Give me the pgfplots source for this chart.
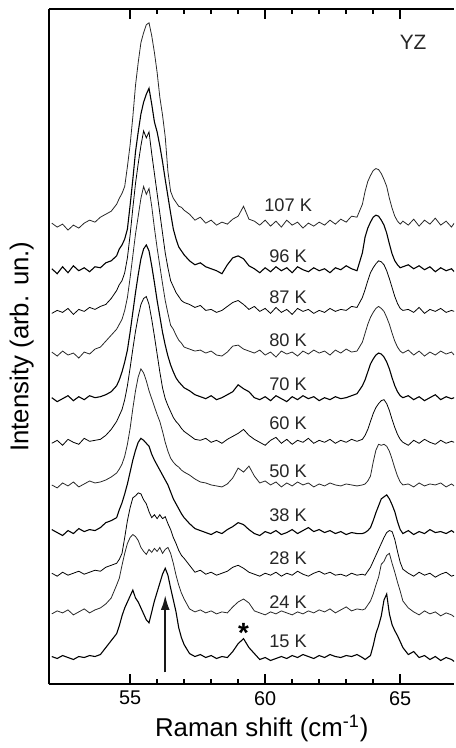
\documentclass[border=0pt]{standalone}
\usepackage{fontspec}
\setmainfont{Liberation Sans}
\usepackage{pgfplots}
\usepackage{pgfplotstable}
\pgfplotsset{compat=1.18}
\usetikzlibrary{arrows.meta}

% Raman spectra, YZ geometry; intensities above each baseline (arb. un.)
\pgfplotstableread{
x    t107 t96 t87 t80 t70 t60 t50 t38 t28 t24 t15
52.1  3  2 -1  3  2  0  1  4  2 -1  1
52.3 -1 -3  2 -1 -2  3 -2  1 -1  2 -1
52.5  2  4  0  4  1 -2  3 -2  3  0  2
52.7 -4 -2  4  0  4  4  0  3  0  3  0
52.9  1  5 -2  2 -1  1  4  0  2 -2 -2
53.1 -2  0  3 -3  3 -1 -1  5  4  1  1
53.3  3  3  1  3  0  5  2  2  1  4  0
53.5  6 -1  5  1  4  2  5  4  3  0  2
53.7  4  4  3  6  2  3  3  3  5  3  1
53.9  9  3  6  8  3  4  4  6  4  5  3
54.1 12  8  8 14  5  8  6 11  8  9 10
54.3 15 10 14 20  8 14  9 13 10 15 17
54.5 22 15 22 26 14 22 13 16 12 28 24
54.6  28  22  28  31  20  28  17  24  16  35  32
54.7  33  26  32  36  28  34  22  31  22  48  42
54.8  40  32  40  45  38  44  30  40  38  60  50
54.9  60  42  55  58  50  58  42  50  55  70  56
55.0  82  66  78  78  68  76  58  62  68  76  62
55.1 110  92 105 100  88  95  78  74  78  79  68
55.2 142 120 130 122 108 113  96  84  80  77  60
55.3 165 140 150 140 126 128 110  92  83  73  56
55.4 185 158 168 158 142 140 118  96  82  66  50
55.5 195 170 183 170 152 146 114  94  76  62  44
55.6 203 178 176 162 156 148 106  91  72  59  38
55.7 205 184 182 168 150 140  96  88  64  64  35
55.8 192 168 160 150 135 125  88  80  58  61  46
55.9 175 150 140 128 118 108  80  74  61  65  57
56.0 155 140 120 108 100  90  72  69  57  62  66
56.1 130 126 100  90  84  72  65  64  61  66  75
56.2 112 110  80  72  68  56  55  59  57  60  84
56.3  90  92  60  55  55  45  44  54  59  64  90
56.4  55  75  45  42  44  38  35  49  52  66  83
56.5  35  58  32  30  35  32  28  42  46  60  70
56.6  28  42  26  26  28  26  24  35  38  50  58
56.7  24  32  20  20  22  22  21  30  32  38  46
56.8  20  24  16  15  18  19  19  25  25  28  30
56.9  19  20  12  12  15  15  16  20  20  20  20
57.0  16  16  10   8  12  12  14  16  17  14  13
57.2 12 10  8  6  9  8 11 10 10  4  4
57.4  6  6  5  4  5  4  7  5  3  1  1
57.6  9  8  7  5  3  3  4  3  5  3  3
57.8  3  4  2  2  1  5  3  1  1  0  0
58.0  6  2  3  4  4  1  1 -1  3  2  2
58.2  1  0  0  0  0  3  0  2  0 -1 -1
58.4  4 -3  2 -1  2  0 -1  0  2  1  1
58.6  2  6  6  3  5  4  2  4  4  0  0
58.8  7 13 10  9  8  7  8  7  8  6  6
59.0 10 15 12 10 15 10 18 11 10 11 14
59.2 20 12  8  6 11 14 14  9  7 14 19
59.4  7  5  3  4  8  8 20  4  3 10 10
59.6  5  2  6  2  2  4 10  0  1  2  4
59.8  1 -2  1  5  0  1  3 -2 -1  0 -2
60.0  6  3  4  0  3 -2  5  2  2 -2  0
60.2  0 -1 -1  3 -1  3  1  0  0  1 -3
60.4  5  4  5 -2  4  6  4  3  3 -1 -1
60.6 -1  0  0  4  1  0 -1 -1 -1  2  1
60.8  6  3  3  1 -2  4  3  1  2  0 -1
61.0  1 -2 -2  3  3 -1  0  4  0 -2  2
61.2  4  4  4 -1  0  3  4  0  4  1  0
61.4 -2  1  1  4  4  1  1  3  1 -1  3
61.6  3 -1  3  1  1  5  3  6 -1  2  1
61.8  0  3 -1  5  3  0 -1  2  2  0 -1
62.0  4  0  2  2 -1  3  2  4  4  3  2
62.2  1  2  0  4  2  1  0  1  1  1  0
62.4  6 -2  4  0  0  4  3  3  3  4  3
62.6  2  3  1  5  3  0  1  0  0  0  1
62.8  7  1  3  2  1  3  0  2  1  3  0
63.0  4  5  2  6  2  1  2 -1 -1  6  2
63.2 10  2  6  3  4  4  1  1  2  2  1
63.4  9  0  5  4  6  2  0  0  0  4  3
63.6 22 18 15 13 14  4  1  0  1  3  0
63.7 35 34 23 22 20  8  2  1  0  4 -2
63.8 45 43 32 31 28 14  5  3  4  8  0
63.9 51 49 40 38 36 22 10  6  8 12  2
64.0 56 54 45 43 41 30 24 13 14 19 12
64.1 58 56 49 47 45 36 36 21 20 28 24
64.2 57 55 52 49 47 40 42 28 26 36 32
64.3 53 51 51 47 46 43 41 35 32 49 42
64.4 47 46 48 44 43 44 42 37 38 52 58
64.5 40 38 42 38 38 40 40 39 43 58 64
64.6 28 27 34 31 31 33 35 35 45 60 44
64.7 18 17 25 22 22 24 27 29 44 50 33
64.8 10 10 16 14 14 16 18 22 36 41 27
64.9  5  6  9  8  8  9 10 12 24 31 22
65.0  2  3  4  4  4  4  4  4 13 22 16
65.1  5  4  2  2  2  1  1  0  6 12 10
65.3  1  6  3  5  4 -2  2  3  2  5  3
65.5  7  2  0  0  0  3 -1 -1 -1  1  6
65.7  0  5  5  4  3  0  3  2  3 -2  0
65.9  6  1 -1 -1 -1  4  0  0  0  2  2
66.1  2  4  3  3  2  1  2  4  2 -1 -2
66.3  8 -1  1  0  5 -1  1  1 -2  1  1
66.5  1  3  4  4  0  3  3  2  1 -3 -3
66.7  5  0  0  1  3  0 -1  0  3  0  0
66.9 -1  2  2  3  1  2  2  3 -1 -2 -2
67.0  3 -1  1  0  2  1  0  1  0 -4 -4
}\spectra

\begin{document}
\begin{tikzpicture}
\begin{axis}[
    scale only axis,
    width=204.25pt, height=340.5pt,
    xmin=52, xmax=67, ymin=0, ymax=681,
    axis y line*=left,
    ytick=\empty,
    xtick={55,60,65},
    minor x tick num=4,
    major tick length=5pt, minor tick length=2.5pt,
    every tick/.style={black, line width=0.8pt},
    axis line style={line width=1pt},
    /pgf/number format/assume math mode=true,
    ticklabel style={font=\fontsize{10}{12}\selectfont},
    xlabel={Raman shift (cm\textsuperscript{-1})},
    ylabel={Intensity (arb. un.)},
    xlabel style={at={(axis description cs:0.525,-0.065)}, anchor=center, font=\fontsize{13}{15}\selectfont},
    ylabel style={at={(axis description cs:-0.0673,0.5)}, anchor=center, font=\fontsize{13}{15}\selectfont},
    cycle list={{black!85, line width=0.55pt, mark=none}},
]
\addplot table[x=x, y expr=\thisrow{t107}+462] {\spectra};
\addplot table[x=x, y expr=\thisrow{t96}+417] {\spectra};
\addplot table[x=x, y expr=\thisrow{t87}+375] {\spectra};
\addplot table[x=x, y expr=\thisrow{t80}+332] {\spectra};
\addplot table[x=x, y expr=\thisrow{t70}+287] {\spectra};
\addplot table[x=x, y expr=\thisrow{t60}+243] {\spectra};
\addplot table[x=x, y expr=\thisrow{t50}+200] {\spectra};
\addplot table[x=x, y expr=\thisrow{t38}+152] {\spectra};
\addplot table[x=x, y expr=\thisrow{t28}+110] {\spectra};
\addplot table[x=x, y expr=\thisrow{t24}+72] {\spectra};
\addplot table[x=x, y expr=\thisrow{t15}+27] {\spectra};

\begin{scope}[every node/.style={font=\fontsize{9.2}{11}\selectfont, text=black!85}]
\node at (axis cs:60.85,483) {107 K};
\node at (axis cs:60.85,432) {96 K};
\node at (axis cs:60.85,390) {87 K};
\node at (axis cs:60.85,347) {80 K};
\node at (axis cs:60.85,303) {70 K};
\node at (axis cs:60.85,263) {60 K};
\node at (axis cs:60.85,215) {50 K};
\node at (axis cs:60.85,170) {38 K};
\node at (axis cs:60.85,127) {28 K};
\node at (axis cs:60.85,83) {24 K};
\node at (axis cs:60.85,43) {15 K};
\end{scope}
\node[font=\fontsize{10.5}{12}\selectfont, text=black!85] at (axis cs:65.48,647) {YZ};
\node[font=\fontsize{14}{16}\selectfont\bfseries] at (axis cs:59.2,52) {*};
\draw[-{Latex[length=7.5pt,width=4.5pt]}, line width=1pt, black!90] (axis cs:56.3,12) -- (axis cs:56.3,90);

\coordinate (tl) at (rel axis cs:0,1);
\coordinate (bl) at (rel axis cs:0,0);
\end{axis}
\path ([yshift=4.5pt]tl) ([xshift=-24.75pt,yshift=-29pt]bl);
\end{tikzpicture}
\end{document}
